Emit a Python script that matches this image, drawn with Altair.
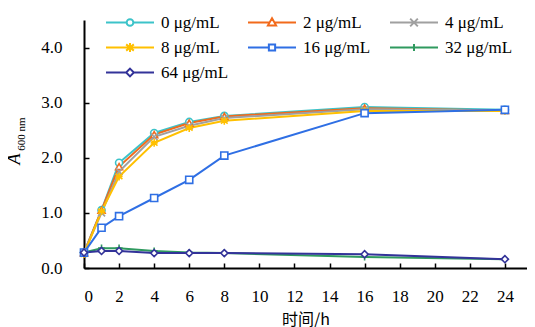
import altair as alt
import pandas as pd

times = [0, 1, 2, 4, 6, 8, 16, 24]
series_names = ["0 μg/mL", "2 μg/mL", "4 μg/mL", "8 μg/mL", "16 μg/mL", "32 μg/mL", "64 μg/mL"]
c0 = [0.28, 1.05, 1.91, 2.45, 2.65, 2.76, 2.92, 2.87]
c2 = [0.28, 1.05, 1.84, 2.42, 2.63, 2.75, 2.90, 2.86]
c4 = [0.28, 1.00, 1.75, 2.38, 2.58, 2.72, 2.88, 2.86]
c8 = [0.25, 1.03, 1.66, 2.27, 2.54, 2.67, 2.85, 2.85]
c16 = [0.28, 0.73, 0.94, 1.27, 1.60, 2.04, 2.81, 2.87]
c32 = [0.28, 0.36, 0.36, 0.31, 0.28, 0.27, 0.20, 0.16]
c64 = [0.28, 0.31, 0.31, 0.27, 0.27, 0.27, 0.25, 0.16]
all_values = [c0, c2, c4, c8, c16, c32, c64]

colors = ["#3cc3c9", "#f26a1b", "#a0a0a0", "#ffc000", "#2f6fe4", "#2f9a5f", "#333399"]
point_shapes = [
    "circle",
    "triangle-up",
    "M-1,-1L1,1M-1,1L1,-1",
    "M0,-1.1L0,1.1M-0.95,-0.75L0.95,0.75M-0.95,0.75L0.95,-0.75M-1,0L1,0",
    "square",
    "M-1,0L1,0M0,-1L0,1",
    "diamond",
]
legend_shapes = [
    "M-1,0L-0.14,0M0.14,0L1,0M-0.14,0A0.14,0.14 0 1,0 0.14,0A0.14,0.14 0 1,0 -0.14,0Z",
    "M-1,0L-0.1,0M0.1,0L1,0M0,-0.18L0.17,0.12L-0.17,0.12Z",
    "M-1,0L1,0M-0.16,-0.16L0.16,0.16M-0.16,0.16L0.16,-0.16",
    "M-1,0L1,0M0,-0.19L0,0.19M-0.16,-0.13L0.16,0.13M-0.16,0.13L0.16,-0.13",
    "M-1,0L-0.13,0M0.13,0L1,0M-0.13,-0.13L0.13,-0.13L0.13,0.13L-0.13,0.13Z",
    "M-1,0L1,0M0,-0.15L0,0.15",
    "M-1,0L-0.16,0M0.16,0L1,0M0,-0.16L0.16,0L0,0.16L-0.16,0Z",
]

rows = []
for name, vals in zip(series_names, all_values):
    for t, v in zip(times, vals):
        rows.append({"time": t, "A": v, "series": name})
df = pd.DataFrame(rows)

FONT = "Liberation Serif"

x_enc = alt.X("time:Q", scale=alt.Scale(domain=[0, 25.26], nice=False, zero=False),
              axis=alt.Axis(values=list(range(0, 25, 2)), title="时间/h", grid=False,
                            tickSize={"expr": "-5"}, labelPadding=25, titlePadding=7,
                            titleFont="Noto Sans CJK SC", titleFontWeight="normal",
                            titleFontSize=16))
y_enc = alt.Y("A:Q", scale=alt.Scale(domain=[0, 4.5], nice=False),
              axis=alt.Axis(values=[0, 1, 2, 3, 4], format=".1f", title=None, grid=False,
                            tickSize={"expr": "-5"}, labelPadding=27))

color_scale = alt.Scale(domain=series_names, range=colors)

lines = alt.Chart(df).mark_line(strokeWidth=2).encode(
    x=x_enc, y=y_enc,
    color=alt.Color("series:N", scale=color_scale, legend=None),
    order=alt.Order("time:Q"),
)

points = alt.Chart(df).mark_point(filled=False, fill="white", strokeWidth=1.6, size=50, opacity=1).encode(
    x=x_enc, y=y_enc,
    color=alt.Color("series:N", scale=color_scale, legend=None),
    shape=alt.Shape("series:N", scale=alt.Scale(domain=series_names, range=point_shapes), legend=None),
)

leg = alt.Legend(title=None, orient="none", legendX=21, legendY=-10, columns=3,
                 direction="horizontal", clipHeight=25,
                 symbolSize=2304, symbolStrokeWidth=2, labelFont=FONT, labelFontSize=17,
                 labelColor="black", labelOffset=6, columnPadding=18, rowPadding=0,
                 gridAlign="all", padding=0, symbolType="circle")

legend_layer = alt.Chart(df).transform_filter("false").mark_point(filled=False, opacity=1).encode(
    x=x_enc, y=y_enc,
    color=alt.Color("series:N", scale=color_scale, legend=leg),
    shape=alt.Shape("series:N", scale=alt.Scale(domain=series_names, range=legend_shapes), legend=leg),
)

title_a = alt.Chart(pd.DataFrame({"t": ["A"]})).mark_text(
    angle=270, font=FONT, fontSize=18, fontStyle="italic", color="black",
    align="center", baseline="middle").encode(
    x=alt.value(-69), y=alt.value(139), text="t:N")
title_sub = alt.Chart(pd.DataFrame({"t": ["600 nm"]})).mark_text(
    angle=270, font=FONT, fontSize=11, color="black",
    align="center", baseline="middle").encode(
    x=alt.value(-62), y=alt.value(114), text="t:N")

chart = alt.layer(lines, points, legend_layer, title_a, title_sub).resolve_scale(
    color="independent", shape="independent"
).properties(
    width=443, height=248,
    autosize=alt.AutoSizeParams(type="none"),
    padding={"left": 76, "top": 12, "right": 0, "bottom": 59},
).configure_view(stroke=None).configure_axis(
    labelFont=FONT, labelFontSize=17, labelColor="black",
    titleFont=FONT, titleFontSize=17, titleColor="black",
    domainColor="black", domainWidth=2, tickColor="black", tickWidth=1.5,
)

chart.save("out.html", embed_options={"renderer": "svg", "actions": False})
